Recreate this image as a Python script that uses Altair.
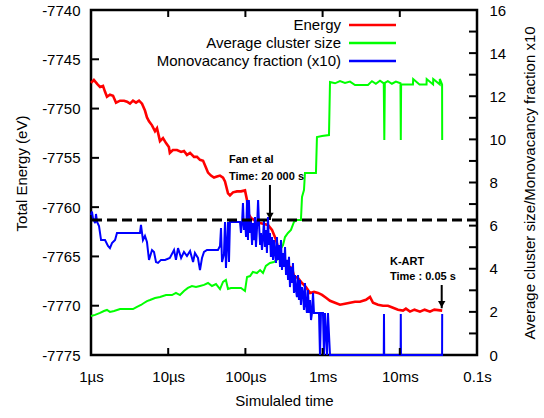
import altair as alt
import pandas as pd

# ---- Simulated time (microseconds) and total energy (eV) ----
energy_time_us = [
    1.00, 1.09, 1.20, 1.31, 1.43, 1.52, 1.61, 1.76, 1.93, 2.11,
    2.38, 2.68, 2.93, 3.20, 3.50, 3.83, 4.19, 4.58, 5.00, 5.31,
    5.64, 6.17, 6.75, 7.16, 7.83, 8.56, 9.37, 10.2, 10.5, 11.5,
    13.0, 14.7, 16.0, 17.5, 19.2, 21.6, 23.6, 25.8, 28.3, 30.9,
    32.8, 35.8, 39.2, 42.8, 46.9, 51.3, 54.4, 59.5, 63.1, 69.1,
    77.8, 87.7, 98.8, 105, 108, 118, 129, 141, 155, 174,
    196, 221, 249, 281, 307, 336, 367, 401, 426, 480,
    541, 609, 687, 774, 872, 983, 1107, 1247, 1448, 1680,
    1950, 2264, 2630, 3050, 3650, 4110, 4500, 5220, 6060, 7030,
    8170, 9480, 11000, 12000, 13550, 15500, 18260, 21000, 24600, 28000,
    35400,
]
energy_ev = [
    -7747.4, -7747.1, -7747.5, -7747.8, -7747.7, -7748.3, -7748.8, -7748.6, -7748.7, -7749.4,
    -7749.2, -7749.2, -7749.3, -7749.5, -7749.2, -7749.4, -7749.2, -7749.5, -7750.2, -7750.9,
    -7751.3, -7751.7, -7752.3, -7752.0, -7753.3, -7753.0, -7753.5, -7753.9, -7754.5, -7754.2,
    -7754.2, -7754.4, -7754.3, -7754.7, -7754.5, -7754.9, -7754.9, -7755.2, -7755.3, -7756.0,
    -7756.5, -7756.8, -7757.0, -7756.9, -7756.8, -7757.0, -7757.4, -7758.6, -7758.8, -7758.5,
    -7758.4, -7758.4, -7758.3, -7759.3, -7760.6, -7761.1, -7761.3, -7761.5, -7761.6, -7761.7,
    -7761.8, -7762.3, -7763.3, -7764.9, -7765.6, -7765.7, -7766.0, -7766.2, -7767.0, -7767.2,
    -7767.7, -7768.1, -7768.7, -7768.6, -7768.7, -7768.9, -7769.2, -7769.5, -7769.7, -7769.9,
    -7769.8, -7769.7, -7769.6, -7769.6, -7769.4, -7769.1, -7769.7, -7769.9, -7770.0, -7770.0,
    -7770.2, -7770.4, -7770.5, -7770.3, -7770.6, -7770.4, -7770.6, -7770.4, -7770.6, -7770.4,
    -7770.5,
]

# ---- Average cluster size ----
cluster_time_us = [
    1.00, 1.13, 1.31, 1.47, 1.61, 1.76, 1.99, 2.38, 3.50, 3.94,
    4.44, 4.85, 5.31, 5.81, 6.75, 7.83, 9.37, 11.2, 12.6, 14.2,
    16.0, 18.0, 20.3, 22.9, 25.8, 29.1, 32.8, 36.9, 41.6, 46.9,
    51.3, 55.9, 59.5, 65.0, 75.5, 87.7, 98.8, 105, 115, 125,
    141, 155, 169, 184, 208, 234, 256, 281, 307, 326,
    356, 389, 426, 465, 524, 541, 574, 591, 687, 820,
    845, 983, 1210, 1247, 1448, 1680, 1950, 2264, 2630, 3100,
    3870, 4360, 4900, 5540, 6200, 6300, 6400, 7000, 7900, 8900,
    10200, 10300, 10400, 12000, 14800, 14900, 18000, 22200, 22300, 27000,
    27100, 32900, 33000, 35300, 35400,
]
cluster_size = [
    1.81, 1.86, 1.95, 2.04, 2.09, 2.00, 2.04, 2.13, 2.13, 2.23,
    2.32, 2.41, 2.50, 2.55, 2.64, 2.69, 2.78, 2.78, 2.88, 2.78,
    2.97, 3.11, 3.20, 3.15, 3.20, 3.25, 3.34, 3.20, 3.29, 3.06,
    3.39, 3.48, 3.06, 3.11, 3.11, 3.11, 2.97, 3.62, 3.66, 3.85,
    3.80, 3.94, 3.80, 4.13, 4.27, 4.31, 4.41, 4.87, 5.10, 5.47,
    5.66, 5.80, 6.17, 6.26, 6.26, 7.33, 7.65, 8.44, 8.44, 8.44,
    10.11, 10.16, 10.20, 12.66, 12.60, 12.70, 12.62, 12.68, 12.52, 12.52,
    12.52, 12.70, 12.58, 12.72, 12.60, 9.97, 12.62, 12.70, 12.58, 12.68,
    12.60, 9.97, 12.55, 12.55, 12.55, 12.80, 12.55, 12.55, 12.80, 12.55,
    12.80, 12.55, 12.80, 12.55, 9.97,
]

# ---- Monovacancy fraction (x10) ----
mono_time_us = [
    1.00, 1.03, 1.06, 1.13, 1.16, 1.20, 1.27, 1.35, 1.52, 1.66,
    1.76, 1.87, 2.05, 2.17, 2.76, 3.72, 4.31, 4.44, 4.71, 5.00,
    5.31, 5.64, 6.17, 6.55, 6.95, 7.38, 8.07, 9.09, 10.5, 11.9,
    12.6, 13.4, 14.7, 16.0, 17.5, 19.2, 21.0, 22.2, 24.3, 25.8,
    27.4, 29.1, 31.8, 34.8, 39.2, 44.1, 46.9, 48.3, 49.8, 52.8,
    54.4, 56.0, 59.5, 61.3, 63.1, 73.3, 85.1, 87.7, 90.4, 93.0,
    95.9, 98.8, 102, 105, 108, 111, 115, 118, 122, 125,
    129, 133, 137, 141, 146, 150, 155, 159, 164, 169,
    174, 179, 185, 190, 196, 202, 208, 214, 221, 228,
    235, 242, 249, 256, 264, 272, 281, 289, 298, 307,
    317, 326, 336, 346, 357, 367, 378, 389, 401, 413,
    426, 439, 452, 465, 480, 494, 509, 524, 541, 557,
    574, 591, 609, 627, 646, 667, 687, 708, 729, 751,
    774, 797, 821, 846, 872, 898, 925, 953, 1011, 1042,
    1074, 1140, 1174, 1247, 6200, 6240, 6280, 10250, 10300, 10350,
    35300, 35400,
]
mono_fraction_x10 = [
    6.49, 6.65, 6.35, 6.12, 6.54, 6.17, 5.98, 5.33, 5.33, 5.06,
    4.96, 5.19, 5.33, 5.66, 5.66, 5.66, 5.66, 6.03, 5.33, 5.52,
    5.24, 4.41, 4.87, 4.78, 4.31, 4.27, 4.41, 4.41, 4.50, 4.87,
    4.41, 4.96, 4.50, 4.78, 4.59, 4.82, 4.31, 4.73, 4.50, 3.94,
    4.50, 4.78, 4.87, 4.87, 4.87, 4.87, 5.06, 5.89, 4.31, 4.68,
    6.17, 4.04, 6.17, 4.31, 6.17, 6.17, 6.17, 5.66, 6.12, 7.05,
    5.80, 6.26, 5.47, 7.19, 5.33, 7.19, 5.66, 6.26, 5.10, 6.12,
    5.33, 6.40, 5.01, 5.80, 7.19, 6.12, 5.10, 5.66, 4.87, 5.47,
    6.26, 5.01, 5.80, 4.73, 6.40, 5.10, 5.66, 4.55, 5.47, 4.41,
    5.33, 4.73, 4.27, 5.47, 4.41, 5.10, 4.08, 5.33, 3.94, 4.73,
    4.08, 5.01, 3.71, 4.41, 3.48, 4.55, 3.15, 4.08, 3.34, 4.27,
    2.88, 3.71, 3.01, 2.69, 3.71, 2.55, 3.48, 2.32, 3.15, 2.88,
    2.09, 3.34, 2.32, 1.95, 3.01, 1.95, 2.55, 1.62, 1.95, 2.88,
    1.95, 1.95, 1.95, 1.95, 1.95, 1.95, 0.00, 1.95, 1.95, 0.00,
    1.95, 0.00, 1.95, 0.00, 0.00, 1.90, 0.00, 0.00, 1.90, 0.00,
    0.00, 1.90,
]

# ---- Axes ----
x_ticks_us = [1, 10, 100, 1000, 10000, 100000]
x_tick_labels = ["1\u00b5s", "10\u00b5s", "100\u00b5s", "1ms", "10ms", "0.1s"]
energy_ticks = [-7775, -7770, -7765, -7760, -7755, -7750, -7745, -7740]
right_minor_ticks = list(range(0, 17))
right_label_values = list(range(0, 17, 2))

# ---- Reference level and annotations ----
reference_energy = [-7761.3]
arrow_time_us = [208, 34900]
arrow_top_ev = [-7757.75, -7767.9]
arrow_tip_ev = [-7761.3, -7770.26]
note_time_us = [61.3, 61.3, 7460, 7460]
note_energy = [-7755.55, -7757.25, -7765.87, -7767.4]
note_text = ["Fan et al", "Time: 20 000 s", "K-ART", "Time : 0.05 s"]

legend_labels = ["Energy", "Average cluster size", "Monovacancy fraction (x10)"]
legend_colors = ["#ff0000", "#00ff00", "#0000ff"]

W, H = 386, 345
FONT = "Liberation Sans"

xscale = alt.Scale(type="log", domain=[1, 100000], nice=False)
escale = alt.Scale(domain=[-7775, -7740], nice=False, zero=False)
sscale = alt.Scale(domain=[0, 16], nice=False, zero=False)

# label text for each decade tick
label_expr = "'" + x_tick_labels[-1] + "'"
for v, lab in reversed(list(zip(x_ticks_us[:-1], x_tick_labels[:-1]))):
    label_expr = f"datum.value < {v * 3} ? '{lab}' : " + label_expr

x_axis = alt.Axis(orient="bottom", values=x_ticks_us, labelExpr=label_expr,
                  title="Simulaled time", ticks=False, domain=False, grid=False,
                  labelPadding=14, titlePadding=9, labelFlush=False)


def xenc(field="t"):
    # every layer carries the same bottom axis so the shared axis merges cleanly
    return alt.X(f"{field}:Q", scale=xscale, axis=x_axis)


energy_df = pd.DataFrame({"t": energy_time_us, "E": energy_ev})
cluster_df = pd.DataFrame({"t": cluster_time_us, "v": cluster_size})
mono_df = pd.DataFrame({"t": mono_time_us, "v": mono_fraction_x10})

energy_line = alt.Chart(energy_df).mark_line(color="#ff0000", strokeWidth=2.6).encode(
    x=xenc(),
    y=alt.Y("E:Q", scale=escale,
            axis=alt.Axis(values=energy_ticks, labelExpr="'' + datum.value",
                          title="Total Energy (eV)", ticks=False, domain=False,
                          grid=False, labelPadding=11, titlePadding=12, titleY=163)),
)

cluster_line = alt.Chart(cluster_df).mark_line(color="#00ff00", strokeWidth=2).encode(
    x=xenc(),
    y=alt.Y("v:Q", scale=sscale,
            axis=alt.Axis(orient="right", values=right_label_values,
                          title="Average cluster size/Monovacancy fraction x10",
                          titleAngle=270, titleBaseline="top", ticks=False,
                          domain=False, grid=False, labelPadding=12, titlePadding=17)),
)

mono_line = alt.Chart(mono_df).mark_line(color="#0000ff", strokeWidth=2).encode(
    x=xenc(),
    y=alt.Y("v:Q", scale=sscale, axis=None),
)

dashed = alt.Chart(pd.DataFrame({"E": reference_energy})).mark_rule(
    color="black", strokeWidth=3, strokeDash=[10, 5]
).encode(y=alt.Y("E:Q", scale=escale, axis=None))

arrow_df = pd.DataFrame({"t": arrow_time_us, "top": arrow_top_ev, "tip": arrow_tip_ev})
arrow_shaft = alt.Chart(arrow_df).mark_rule(color="black", strokeWidth=2).encode(
    x=xenc(),
    y=alt.Y("top:Q", scale=escale, axis=None),
    y2="tip:Q",
)
arrow_head = alt.Chart(arrow_df).mark_point(
    shape="triangle-down", filled=True, size=55, color="black", opacity=1, yOffset=-4
).encode(
    x=xenc(),
    y=alt.Y("tip:Q", scale=escale, axis=None),
)

notes_df = pd.DataFrame({"t": note_time_us, "E": note_energy, "txt": note_text})
notes = alt.Chart(notes_df).mark_text(
    align="left", baseline="alphabetic", font=FONT, fontSize=11, fontWeight="bold",
    color="black"
).encode(
    x=xenc(),
    y=alt.Y("E:Q", scale=escale, axis=None),
    text="txt:N",
)

# inward tick marks on all four sides of the frame
tick_style = dict(color="black", strokeWidth=2)
left_ticks = alt.Chart(pd.DataFrame({"v": energy_ticks})).mark_rule(**tick_style).encode(
    y=alt.Y("v:Q", scale=escale, axis=None), x=alt.value(0), x2=alt.value(8))
right_ticks = alt.Chart(pd.DataFrame({"v": right_minor_ticks})).mark_rule(**tick_style).encode(
    y=alt.Y("v:Q", scale=sscale, axis=None), x=alt.value(W - 8), x2=alt.value(W))
bottom_ticks = alt.Chart(pd.DataFrame({"t": x_ticks_us})).mark_rule(**tick_style).encode(
    x=xenc(), y=alt.value(H - 7), y2=alt.value(H))
top_ticks = alt.Chart(pd.DataFrame({"t": x_ticks_us})).mark_rule(**tick_style).encode(
    x=xenc(), y=alt.value(0), y2=alt.value(7))

# legend in the upper right: label, then a line swatch
legend_layers = []
for i, (lab, col) in enumerate(zip(legend_labels, legend_colors)):
    yy = 15 + 18 * i
    ldf = pd.DataFrame({"label": [lab]})
    legend_layers.append(
        alt.Chart(ldf).mark_text(align="right", baseline="middle", font=FONT,
                                 fontSize=15, color="black")
        .encode(x=alt.value(250), y=alt.value(yy), text="label:N"))
    legend_layers.append(
        alt.Chart(ldf).mark_rule(color=col, strokeWidth=2.5)
        .encode(x=alt.value(258), x2=alt.value(305), y=alt.value(yy)))

chart = alt.layer(
    energy_line, cluster_line, mono_line, dashed,
    arrow_shaft, arrow_head, notes,
    left_ticks, right_ticks, bottom_ticks, top_ticks,
    *legend_layers,
).resolve_scale(y="independent").resolve_axis(y="independent").properties(
    width=W, height=H,
    autosize=alt.AutoSizeParams(type="none"),
    padding={"left": 91, "top": 10, "right": 67, "bottom": 63},
    background="white",
).configure_view(
    stroke="black", strokeWidth=2.5
).configure_axis(
    labelFont=FONT, labelFontSize=15, labelColor="black",
    titleFont=FONT, titleFontSize=15, titleFontWeight="normal", titleColor="black",
)

chart.save("out.html", embed_options={"renderer": "svg", "actions": False})
